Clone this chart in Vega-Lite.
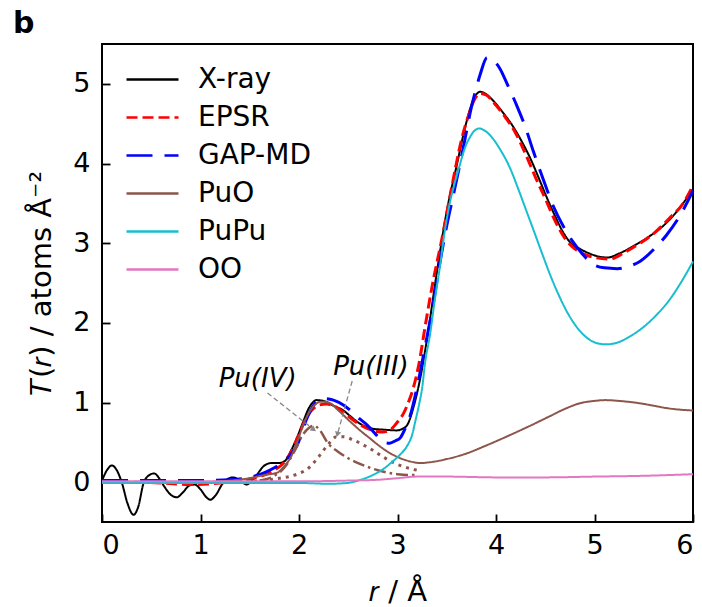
{
  "$schema": "https://vega.github.io/schema/vega-lite/v6.json",
  "width": 591,
  "height": 478,
  "autosize": "none",
  "padding": {"left": 102, "top": 44, "right": 9, "bottom": 85},
  "background": "white",
  "title": {"text": "b", "anchor": "start", "frame": "group", "dx": -89, "dy": -5, "fontSize": 30, "fontWeight": "bold", "font": "DejaVu Sans", "color": "black", "offset": 0, "baseline": "top"},
  "config": {
    "font": "DejaVu Sans",
    "view": {"stroke": "black", "strokeWidth": 2},
    "axis": {"domain": false, "grid": false, "ticks": true, "tickColor": "black", "tickWidth": 1.8, "tickSize": -8, "labelColor": "black", "labelFontSize": 27, "labelFont": "DejaVu Sans", "titleFont": "DejaVu Sans", "titleFontSize": 29, "titleFontWeight": "normal", "titleColor": "black"}
  },
  "datasets": {
    "main": [
      {"s":"X-ray","r":0.0,"t":0.02},{"s":"X-ray","r":0.05,"t":0.15},{"s":"X-ray","r":0.1,"t":0.21},{"s":"X-ray","r":0.15,"t":0.15},{"s":"X-ray","r":0.2,"t":0.0},{"s":"X-ray","r":0.26,"t":-0.27},{"s":"X-ray","r":0.32,"t":-0.41},{"s":"X-ray","r":0.37,"t":-0.3},{"s":"X-ray","r":0.42,"t":-0.02},{"s":"X-ray","r":0.47,"t":0.08},{"s":"X-ray","r":0.53,"t":0.11},{"s":"X-ray","r":0.58,"t":0.05},{"s":"X-ray","r":0.63,"t":-0.05},{"s":"X-ray","r":0.7,"t":-0.16},{"s":"X-ray","r":0.76,"t":-0.19},{"s":"X-ray","r":0.82,"t":-0.13},{"s":"X-ray","r":0.89,"t":-0.04},{"s":"X-ray","r":0.94,"t":-0.03},{"s":"X-ray","r":1.0,"t":-0.09},{"s":"X-ray","r":1.06,"t":-0.19},{"s":"X-ray","r":1.1,"t":-0.22},{"s":"X-ray","r":1.15,"t":-0.17},{"s":"X-ray","r":1.23,"t":-0.01},{"s":"X-ray","r":1.33,"t":0.06},{"s":"X-ray","r":1.4,"t":0.02},{"s":"X-ray","r":1.47,"t":-0.03},{"s":"X-ray","r":1.52,"t":0.02},{"s":"X-ray","r":1.57,"t":0.09},{"s":"X-ray","r":1.65,"t":0.21},{"s":"X-ray","r":1.72,"t":0.24},{"s":"X-ray","r":1.8,"t":0.24},{"s":"X-ray","r":1.86,"t":0.27},{"s":"X-ray","r":1.92,"t":0.4},{"s":"X-ray","r":1.98,"t":0.56},{"s":"X-ray","r":2.04,"t":0.75},{"s":"X-ray","r":2.1,"t":0.93},{"s":"X-ray","r":2.18,"t":1.03},{"s":"X-ray","r":2.25,"t":1.02},{"s":"X-ray","r":2.35,"t":0.96},{"s":"X-ray","r":2.45,"t":0.9},{"s":"X-ray","r":2.52,"t":0.83},{"s":"X-ray","r":2.6,"t":0.75},{"s":"X-ray","r":2.67,"t":0.7},{"s":"X-ray","r":2.75,"t":0.67},{"s":"X-ray","r":2.85,"t":0.66},{"s":"X-ray","r":2.99,"t":0.65},{"s":"X-ray","r":3.05,"t":0.67},{"s":"X-ray","r":3.1,"t":0.72},{"s":"X-ray","r":3.16,"t":0.93},{"s":"X-ray","r":3.23,"t":1.3},{"s":"X-ray","r":3.3,"t":1.8},{"s":"X-ray","r":3.4,"t":2.64},{"s":"X-ray","r":3.5,"t":3.4},{"s":"X-ray","r":3.6,"t":3.97},{"s":"X-ray","r":3.7,"t":4.52},{"s":"X-ray","r":3.77,"t":4.8},{"s":"X-ray","r":3.84,"t":4.9},{"s":"X-ray","r":3.9,"t":4.87},{"s":"X-ray","r":3.97,"t":4.79},{"s":"X-ray","r":4.07,"t":4.64},{"s":"X-ray","r":4.17,"t":4.47},{"s":"X-ray","r":4.26,"t":4.28},{"s":"X-ray","r":4.35,"t":4.06},{"s":"X-ray","r":4.44,"t":3.8},{"s":"X-ray","r":4.52,"t":3.56},{"s":"X-ray","r":4.6,"t":3.34},{"s":"X-ray","r":4.68,"t":3.14},{"s":"X-ray","r":4.76,"t":3.0},{"s":"X-ray","r":4.85,"t":2.93},{"s":"X-ray","r":4.95,"t":2.87},{"s":"X-ray","r":5.05,"t":2.83},{"s":"X-ray","r":5.13,"t":2.82},{"s":"X-ray","r":5.25,"t":2.87},{"s":"X-ray","r":5.39,"t":2.96},{"s":"X-ray","r":5.55,"t":3.08},{"s":"X-ray","r":5.7,"t":3.22},{"s":"X-ray","r":5.85,"t":3.42},{"s":"X-ray","r":6.0,"t":3.68},

      {"s":"EPSR","r":0.0,"t":0.0},{"s":"EPSR","r":0.3,"t":0.0},{"s":"EPSR","r":0.6,"t":-0.01},{"s":"EPSR","r":0.9,"t":-0.03},{"s":"EPSR","r":1.2,"t":-0.01},{"s":"EPSR","r":1.4,"t":0.02},{"s":"EPSR","r":1.6,"t":0.07},{"s":"EPSR","r":1.75,"t":0.15},{"s":"EPSR","r":1.85,"t":0.25},{"s":"EPSR","r":1.92,"t":0.38},{"s":"EPSR","r":2.0,"t":0.6},{"s":"EPSR","r":2.08,"t":0.82},{"s":"EPSR","r":2.15,"t":0.93},{"s":"EPSR","r":2.21,"t":0.97},{"s":"EPSR","r":2.28,"t":0.98},{"s":"EPSR","r":2.35,"t":0.96},{"s":"EPSR","r":2.45,"t":0.88},{"s":"EPSR","r":2.55,"t":0.78},{"s":"EPSR","r":2.65,"t":0.7},{"s":"EPSR","r":2.75,"t":0.65},{"s":"EPSR","r":2.85,"t":0.63},{"s":"EPSR","r":2.93,"t":0.66},{"s":"EPSR","r":2.99,"t":0.74},{"s":"EPSR","r":3.06,"t":0.86},{"s":"EPSR","r":3.11,"t":1.0},{"s":"EPSR","r":3.16,"t":1.18},{"s":"EPSR","r":3.22,"t":1.5},{"s":"EPSR","r":3.28,"t":1.95},{"s":"EPSR","r":3.35,"t":2.45},{"s":"EPSR","r":3.45,"t":3.05},{"s":"EPSR","r":3.55,"t":3.7},{"s":"EPSR","r":3.65,"t":4.3},{"s":"EPSR","r":3.72,"t":4.6},{"s":"EPSR","r":3.78,"t":4.8},{"s":"EPSR","r":3.84,"t":4.88},{"s":"EPSR","r":3.9,"t":4.86},{"s":"EPSR","r":4.0,"t":4.73},{"s":"EPSR","r":4.1,"t":4.57},{"s":"EPSR","r":4.2,"t":4.38},{"s":"EPSR","r":4.3,"t":4.12},{"s":"EPSR","r":4.4,"t":3.83},{"s":"EPSR","r":4.5,"t":3.56},{"s":"EPSR","r":4.6,"t":3.28},{"s":"EPSR","r":4.7,"t":3.06},{"s":"EPSR","r":4.8,"t":2.93},{"s":"EPSR","r":4.9,"t":2.86},{"s":"EPSR","r":5.0,"t":2.82},{"s":"EPSR","r":5.15,"t":2.8},{"s":"EPSR","r":5.3,"t":2.88},{"s":"EPSR","r":5.45,"t":2.99},{"s":"EPSR","r":5.6,"t":3.12},{"s":"EPSR","r":5.75,"t":3.3},{"s":"EPSR","r":5.9,"t":3.5},{"s":"EPSR","r":6.0,"t":3.72},

      {"s":"GAP-MD","r":0.0,"t":0.02},{"s":"GAP-MD","r":0.5,"t":0.02},{"s":"GAP-MD","r":1.0,"t":0.02},{"s":"GAP-MD","r":1.3,"t":0.03},{"s":"GAP-MD","r":1.5,"t":0.06},{"s":"GAP-MD","r":1.65,"t":0.12},{"s":"GAP-MD","r":1.75,"t":0.18},{"s":"GAP-MD","r":1.85,"t":0.27},{"s":"GAP-MD","r":1.92,"t":0.35},{"s":"GAP-MD","r":1.98,"t":0.46},{"s":"GAP-MD","r":2.08,"t":0.8},{"s":"GAP-MD","r":2.15,"t":0.97},{"s":"GAP-MD","r":2.25,"t":1.05},{"s":"GAP-MD","r":2.35,"t":1.03},{"s":"GAP-MD","r":2.45,"t":0.97},{"s":"GAP-MD","r":2.55,"t":0.87},{"s":"GAP-MD","r":2.62,"t":0.79},{"s":"GAP-MD","r":2.69,"t":0.72},{"s":"GAP-MD","r":2.78,"t":0.6},{"s":"GAP-MD","r":2.86,"t":0.5},{"s":"GAP-MD","r":2.92,"t":0.49},{"s":"GAP-MD","r":2.98,"t":0.52},{"s":"GAP-MD","r":3.03,"t":0.56},{"s":"GAP-MD","r":3.08,"t":0.68},{"s":"GAP-MD","r":3.13,"t":0.84},{"s":"GAP-MD","r":3.2,"t":1.2},{"s":"GAP-MD","r":3.28,"t":1.7},{"s":"GAP-MD","r":3.36,"t":2.22},{"s":"GAP-MD","r":3.43,"t":2.75},{"s":"GAP-MD","r":3.5,"t":3.22},{"s":"GAP-MD","r":3.57,"t":3.62},{"s":"GAP-MD","r":3.63,"t":3.97},{"s":"GAP-MD","r":3.7,"t":4.4},{"s":"GAP-MD","r":3.74,"t":4.65},{"s":"GAP-MD","r":3.8,"t":4.95},{"s":"GAP-MD","r":3.84,"t":5.12},{"s":"GAP-MD","r":3.91,"t":5.33},{"s":"GAP-MD","r":3.97,"t":5.3},{"s":"GAP-MD","r":4.04,"t":5.19},{"s":"GAP-MD","r":4.12,"t":4.98},{"s":"GAP-MD","r":4.21,"t":4.73},{"s":"GAP-MD","r":4.3,"t":4.45},{"s":"GAP-MD","r":4.38,"t":4.15},{"s":"GAP-MD","r":4.48,"t":3.8},{"s":"GAP-MD","r":4.58,"t":3.47},{"s":"GAP-MD","r":4.68,"t":3.22},{"s":"GAP-MD","r":4.78,"t":3.02},{"s":"GAP-MD","r":4.88,"t":2.86},{"s":"GAP-MD","r":4.98,"t":2.74},{"s":"GAP-MD","r":5.1,"t":2.69},{"s":"GAP-MD","r":5.23,"t":2.68},{"s":"GAP-MD","r":5.35,"t":2.71},{"s":"GAP-MD","r":5.46,"t":2.77},{"s":"GAP-MD","r":5.6,"t":2.92},{"s":"GAP-MD","r":5.73,"t":3.1},{"s":"GAP-MD","r":5.87,"t":3.35},{"s":"GAP-MD","r":6.0,"t":3.66},

      {"s":"PuO","r":0.0,"t":0.0},{"s":"PuO","r":0.5,"t":0.0},{"s":"PuO","r":1.0,"t":0.0},{"s":"PuO","r":1.3,"t":0.02},{"s":"PuO","r":1.5,"t":0.05},{"s":"PuO","r":1.65,"t":0.09},{"s":"PuO","r":1.78,"t":0.12},{"s":"PuO","r":1.85,"t":0.2},{"s":"PuO","r":1.91,"t":0.3},{"s":"PuO","r":1.98,"t":0.5},{"s":"PuO","r":2.04,"t":0.71},{"s":"PuO","r":2.1,"t":0.87},{"s":"PuO","r":2.16,"t":0.97},{"s":"PuO","r":2.22,"t":1.01},{"s":"PuO","r":2.3,"t":1.0},{"s":"PuO","r":2.4,"t":0.9},{"s":"PuO","r":2.52,"t":0.76},{"s":"PuO","r":2.62,"t":0.65},{"s":"PuO","r":2.72,"t":0.55},{"s":"PuO","r":2.8,"t":0.47},{"s":"PuO","r":2.89,"t":0.39},{"s":"PuO","r":3.03,"t":0.3},{"s":"PuO","r":3.13,"t":0.26},{"s":"PuO","r":3.23,"t":0.24},{"s":"PuO","r":3.33,"t":0.25},{"s":"PuO","r":3.5,"t":0.29},{"s":"PuO","r":3.7,"t":0.36},{"s":"PuO","r":3.9,"t":0.46},{"s":"PuO","r":4.14,"t":0.59},{"s":"PuO","r":4.35,"t":0.71},{"s":"PuO","r":4.55,"t":0.83},{"s":"PuO","r":4.7,"t":0.92},{"s":"PuO","r":4.85,"t":0.99},{"s":"PuO","r":5.0,"t":1.02},{"s":"PuO","r":5.11,"t":1.03},{"s":"PuO","r":5.25,"t":1.02},{"s":"PuO","r":5.46,"t":0.99},{"s":"PuO","r":5.6,"t":0.96},{"s":"PuO","r":5.73,"t":0.93},{"s":"PuO","r":5.87,"t":0.91},{"s":"PuO","r":6.0,"t":0.9},

      {"s":"PuPu","r":0.0,"t":-0.01},{"s":"PuPu","r":1.0,"t":-0.01},{"s":"PuPu","r":2.0,"t":-0.01},{"s":"PuPu","r":2.3,"t":-0.02},{"s":"PuPu","r":2.49,"t":-0.01},{"s":"PuPu","r":2.6,"t":0.02},{"s":"PuPu","r":2.75,"t":0.09},{"s":"PuPu","r":2.85,"t":0.16},{"s":"PuPu","r":2.95,"t":0.26},{"s":"PuPu","r":3.03,"t":0.35},{"s":"PuPu","r":3.1,"t":0.46},{"s":"PuPu","r":3.15,"t":0.6},{"s":"PuPu","r":3.18,"t":0.76},{"s":"PuPu","r":3.22,"t":0.98},{"s":"PuPu","r":3.25,"t":1.18},{"s":"PuPu","r":3.28,"t":1.5},{"s":"PuPu","r":3.33,"t":1.85},{"s":"PuPu","r":3.38,"t":2.3},{"s":"PuPu","r":3.43,"t":2.7},{"s":"PuPu","r":3.48,"t":3.15},{"s":"PuPu","r":3.53,"t":3.5},{"s":"PuPu","r":3.58,"t":3.75},{"s":"PuPu","r":3.63,"t":3.97},{"s":"PuPu","r":3.68,"t":4.18},{"s":"PuPu","r":3.74,"t":4.34},{"s":"PuPu","r":3.78,"t":4.41},{"s":"PuPu","r":3.83,"t":4.44},{"s":"PuPu","r":3.9,"t":4.4},{"s":"PuPu","r":3.97,"t":4.31},{"s":"PuPu","r":4.05,"t":4.16},{"s":"PuPu","r":4.14,"t":3.95},{"s":"PuPu","r":4.22,"t":3.7},{"s":"PuPu","r":4.31,"t":3.4},{"s":"PuPu","r":4.4,"t":3.1},{"s":"PuPu","r":4.48,"t":2.83},{"s":"PuPu","r":4.56,"t":2.57},{"s":"PuPu","r":4.64,"t":2.34},{"s":"PuPu","r":4.72,"t":2.14},{"s":"PuPu","r":4.8,"t":1.98},{"s":"PuPu","r":4.88,"t":1.86},{"s":"PuPu","r":4.96,"t":1.78},{"s":"PuPu","r":5.04,"t":1.74},{"s":"PuPu","r":5.12,"t":1.73},{"s":"PuPu","r":5.25,"t":1.76},{"s":"PuPu","r":5.36,"t":1.83},{"s":"PuPu","r":5.5,"t":1.95},{"s":"PuPu","r":5.63,"t":2.1},{"s":"PuPu","r":5.75,"t":2.27},{"s":"PuPu","r":5.87,"t":2.49},{"s":"PuPu","r":6.0,"t":2.77},

      {"s":"OO","r":0.0,"t":0.01},{"s":"OO","r":1.0,"t":0.01},{"s":"OO","r":2.0,"t":0.01},{"s":"OO","r":2.5,"t":0.02},{"s":"OO","r":2.8,"t":0.03},{"s":"OO","r":3.0,"t":0.05},{"s":"OO","r":3.2,"t":0.07},{"s":"OO","r":3.5,"t":0.07},{"s":"OO","r":4.0,"t":0.06},{"s":"OO","r":4.5,"t":0.06},{"s":"OO","r":5.0,"t":0.07},{"s":"OO","r":5.5,"t":0.08},{"s":"OO","r":6.0,"t":0.1}
    ],
    "comp": [
      {"c":"Pu(IV)","r":1.6,"t":0.02},{"c":"Pu(IV)","r":1.75,"t":0.08},{"c":"Pu(IV)","r":1.85,"t":0.18},{"c":"Pu(IV)","r":1.95,"t":0.38},{"c":"Pu(IV)","r":2.03,"t":0.58},{"c":"Pu(IV)","r":2.1,"t":0.68},{"c":"Pu(IV)","r":2.15,"t":0.71},{"c":"Pu(IV)","r":2.2,"t":0.67},{"c":"Pu(IV)","r":2.3,"t":0.48},{"c":"Pu(IV)","r":2.4,"t":0.38},{"c":"Pu(IV)","r":2.5,"t":0.3},{"c":"Pu(IV)","r":2.6,"t":0.24},{"c":"Pu(IV)","r":2.7,"t":0.19},{"c":"Pu(IV)","r":2.8,"t":0.15},{"c":"Pu(IV)","r":2.9,"t":0.12},{"c":"Pu(IV)","r":3.0,"t":0.1},{"c":"Pu(IV)","r":3.1,"t":0.09},{"c":"Pu(IV)","r":3.2,"t":0.09},
      {"c":"Pu(III)","r":1.3,"t":0.0},{"c":"Pu(III)","r":1.5,"t":0.01},{"c":"Pu(III)","r":1.7,"t":0.03},{"c":"Pu(III)","r":1.8,"t":0.05},{"c":"Pu(III)","r":1.9,"t":0.07},{"c":"Pu(III)","r":2.0,"t":0.11},{"c":"Pu(III)","r":2.1,"t":0.18},{"c":"Pu(III)","r":2.2,"t":0.32},{"c":"Pu(III)","r":2.3,"t":0.48},{"c":"Pu(III)","r":2.38,"t":0.57},{"c":"Pu(III)","r":2.45,"t":0.57},{"c":"Pu(III)","r":2.55,"t":0.53},{"c":"Pu(III)","r":2.65,"t":0.47},{"c":"Pu(III)","r":2.75,"t":0.4},{"c":"Pu(III)","r":2.85,"t":0.32},{"c":"Pu(III)","r":2.95,"t":0.25},{"c":"Pu(III)","r":3.05,"t":0.2},{"c":"Pu(III)","r":3.2,"t":0.15}
    ],
    "ann": [
      {"label":"Pu(IV)","lx":1.58,"ly":1.29,"r1":1.68,"t1":1.12,"r2":2.15,"t2":0.66,"ang":128},
      {"label":"Pu(III)","lx":2.73,"ly":1.44,"r1":2.54,"t1":1.27,"r2":2.39,"t2":0.6,"ang":195}
    ]
  },
  "layer": [
    {
      "data": {"name": "main"},
      "transform": [{"filter": "datum.s == 'X-ray'"}],
      "mark": {"type": "line", "strokeWidth": 2, "interpolate": "monotone"},
      "encoding": {
        "x": {"field": "r", "type": "quantitative", "scale": {"domain": [0, 6], "nice": false}, "axis": {"values": [0,1,2,3,4,5,6], "format": "d", "title": "𝑟 / Å", "titlePadding": 19, "labelPadding": 18}},
        "y": {"field": "t", "type": "quantitative", "scale": {"domain": [-0.5, 5.5], "nice": false, "zero": false}, "axis": {"values": [0,1,2,3,4,5], "format": "d", "title": "𝑇(𝑟) / atoms Å⁻²", "titlePadding": 16, "labelPadding": 20}},
        "color": {"field": "s", "type": "nominal", "scale": {"domain": ["X-ray","EPSR","GAP-MD","PuO","PuPu","OO"], "range": ["#000000","#ff0000","#0000ff","#8c564b","#17becf","#e377c2"]}, "legend": {"orient": "none", "legendX": 23, "legendY": 17, "title": null, "padding": 0, "symbolType": "stroke", "symbolSize": 2704, "symbolStrokeWidth": 2.5, "clipHeight": 37.2, "rowPadding": 0, "labelFontSize": 28, "labelColor": "black", "labelOffset": 18, "labelFont": "DejaVu Sans"}},
        "strokeDash": {"field": "s", "type": "nominal", "scale": {"domain": ["X-ray","EPSR","GAP-MD","PuO","PuPu","OO"], "range": [[1,0],[11,5],[26,12],[1,0],[1,0],[1,0]]}}
      }
    },
    {
      "data": {"name": "main"},
      "transform": [{"filter": "datum.s == 'EPSR'"}],
      "mark": {"type": "line", "strokeWidth": 3, "interpolate": "monotone"},
      "encoding": {
        "x": {"field": "r", "type": "quantitative"},
        "y": {"field": "t", "type": "quantitative"},
        "color": {"field": "s", "type": "nominal"},
        "strokeDash": {"field": "s", "type": "nominal"}
      }
    },
    {
      "data": {"name": "main"},
      "transform": [{"filter": "datum.s == 'GAP-MD'"}],
      "mark": {"type": "line", "strokeWidth": 3, "interpolate": "monotone"},
      "encoding": {
        "x": {"field": "r", "type": "quantitative"},
        "y": {"field": "t", "type": "quantitative"},
        "color": {"field": "s", "type": "nominal"},
        "strokeDash": {"field": "s", "type": "nominal"}
      }
    },
    {
      "data": {"name": "main"},
      "transform": [{"filter": "datum.s == 'PuO'"}],
      "mark": {"type": "line", "strokeWidth": 2, "interpolate": "monotone"},
      "encoding": {
        "x": {"field": "r", "type": "quantitative"},
        "y": {"field": "t", "type": "quantitative"},
        "color": {"field": "s", "type": "nominal"},
        "strokeDash": {"field": "s", "type": "nominal"}
      }
    },
    {
      "data": {"name": "comp"},
      "transform": [{"filter": "datum.c == 'Pu(IV)'"}],
      "mark": {"type": "line", "strokeWidth": 2.5, "color": "#8c564b", "strokeDash": [12, 4, 2.5, 4], "interpolate": "monotone"},
      "encoding": {
        "x": {"field": "r", "type": "quantitative"},
        "y": {"field": "t", "type": "quantitative"}
      }
    },
    {
      "data": {"name": "comp"},
      "transform": [{"filter": "datum.c == 'Pu(III)'"}],
      "mark": {"type": "line", "strokeWidth": 3, "color": "#8c564b", "strokeDash": [3, 5], "interpolate": "monotone"},
      "encoding": {
        "x": {"field": "r", "type": "quantitative"},
        "y": {"field": "t", "type": "quantitative"}
      }
    },
    {
      "data": {"name": "main"},
      "transform": [{"filter": "datum.s == 'PuPu'"}],
      "mark": {"type": "line", "strokeWidth": 2, "interpolate": "monotone"},
      "encoding": {
        "x": {"field": "r", "type": "quantitative"},
        "y": {"field": "t", "type": "quantitative"},
        "color": {"field": "s", "type": "nominal"},
        "strokeDash": {"field": "s", "type": "nominal"}
      }
    },
    {
      "data": {"name": "main"},
      "transform": [{"filter": "datum.s == 'OO'"}],
      "mark": {"type": "line", "strokeWidth": 2, "interpolate": "monotone"},
      "encoding": {
        "x": {"field": "r", "type": "quantitative"},
        "y": {"field": "t", "type": "quantitative"},
        "color": {"field": "s", "type": "nominal"},
        "strokeDash": {"field": "s", "type": "nominal"}
      }
    },
    {
      "data": {"name": "ann"},
      "mark": {"type": "rule", "color": "#888888", "strokeWidth": 1.3, "strokeDash": [5, 3]},
      "encoding": {
        "x": {"field": "r1", "type": "quantitative"},
        "y": {"field": "t1", "type": "quantitative"},
        "x2": {"field": "r2"},
        "y2": {"field": "t2"}
      }
    },
    {
      "data": {"name": "ann"},
      "mark": {"type": "point", "shape": "triangle-up", "filled": true, "color": "#888888", "size": 40, "opacity": 1},
      "encoding": {
        "x": {"field": "r2", "type": "quantitative"},
        "y": {"field": "t2", "type": "quantitative"},
        "angle": {"field": "ang", "type": "quantitative", "scale": null}
      }
    },
    {
      "data": {"name": "ann"},
      "mark": {"type": "text", "fontSize": 26, "fontStyle": "italic", "font": "DejaVu Sans", "color": "black", "align": "center", "baseline": "middle"},
      "encoding": {
        "x": {"field": "lx", "type": "quantitative"},
        "y": {"field": "ly", "type": "quantitative"},
        "text": {"field": "label"}
      }
    }
  ]
}
